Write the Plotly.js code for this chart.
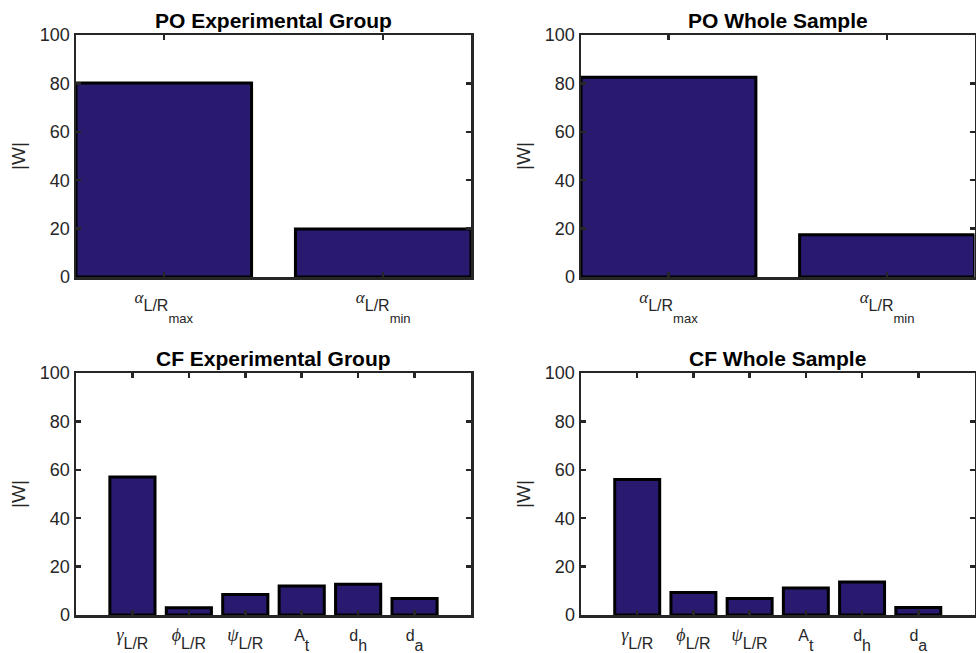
<!DOCTYPE html>
<html>
<head>
<meta charset="utf-8">
<script src="https://cdn.plot.ly/plotly-3.0.1.min.js"></script>
<style>html,body{margin:0;padding:0;background:#fff;}#chart{width:976px;height:653px;}</style>
</head>
<body>
<div id="chart"></div>
<script>
// ---- data ----
const titles = ["PO Experimental Group", "PO Whole Sample", "CF Experimental Group", "CF Whole Sample"];
const poCategories = [1, 2];
const poTickText = [
  '<span style="font-family:Liberation Serif;font-style:italic;font-size:17px">α</span><span style="baseline-shift:-8px">L/R</span><span style="baseline-shift:-20px;font-size:13px">max</span>',
  '<span style="font-family:Liberation Serif;font-style:italic;font-size:17px">α</span><span style="baseline-shift:-8px">L/R</span><span style="baseline-shift:-20px;font-size:13px">min</span>'
];
const poExperimental = [80.2, 19.8];
const poWhole = [82.5, 17.5];
const cfCategories = [1, 2, 3, 4, 5, 6];
const cfTickText = [
  '<span style="font-family:Liberation Serif;font-style:italic;font-size:18px">γ</span><span style="baseline-shift:-8px">L/R</span>',
  '<span style="font-family:Liberation Serif;font-style:italic;font-size:18px">ϕ</span><span style="baseline-shift:-8px">L/R</span>',
  '<span style="font-family:Liberation Serif;font-style:italic;font-size:18px">ψ</span><span style="baseline-shift:-8px">L/R</span>',
  'A<span style="baseline-shift:-10px">t</span>',
  'd<span style="baseline-shift:-10px">h</span>',
  'd<span style="baseline-shift:-10px">a</span>'
];
const cfExperimental = [57, 3, 8.5, 12, 12.7, 6.8];
const cfWhole = [56, 9.3, 6.8, 11.2, 13.6, 3.1];
const yTickVals = [0, 20, 40, 60, 80, 100];
const yLabel = "|W|";

// ---- styles ----
const barColor = "#29196f";
const axisColor = "#262626";
const fontFam = "Liberation Sans, Arial, sans-serif";

function bar(x, y, xa, ya) {
  return {type: "bar", x: x, y: y, xaxis: xa, yaxis: ya, width: 0.8,
    marker: {color: barColor, line: {color: "#000", width: 3}}, hoverinfo: "skip"};
}
const data = [
  bar(poCategories, poExperimental, "x", "y"),
  bar(poCategories, poWhole, "x2", "y2"),
  bar(cfCategories, cfExperimental, "x3", "y3"),
  bar(cfCategories, cfWhole, "x4", "y4")
];

const W = 976, H = 653;
const colL = [76 / W, 471 / W], colR = [581 / W, 974.5 / W];
const rowT = [1 - 277 / H, 1 - 35 / H], rowB = [1 - 615 / H, 1 - 373 / H];

function xAxis(domain, anchor, range, vals, text) {
  return {domain: domain, anchor: anchor, range: range, tickvals: vals, ticktext: text,
    showline: true, linecolor: axisColor, linewidth: 2.5, mirror: "ticks",
    ticks: "inside", ticklen: 5, tickwidth: 2.5, tickcolor: axisColor,
    showgrid: false, zeroline: false, fixedrange: true, ticklabelstandoff: 4,
    tickfont: {family: fontFam, size: 16, color: axisColor}};
}
function yAxis(domain, anchor) {
  return {domain: domain, anchor: anchor, range: [0, 100], tickvals: yTickVals,
    showline: true, linecolor: axisColor, linewidth: 2.5, mirror: "ticks",
    ticks: "inside", ticklen: 5, tickwidth: 2.5, tickcolor: axisColor,
    showgrid: false, zeroline: false, fixedrange: true,
    tickfont: {family: fontFam, size: 18, color: axisColor},
    title: {text: yLabel, font: {family: fontFam, size: 19, color: axisColor}, standoff: 9}};
}

function titleAnn(text, dom, rowTop) {
  return {text: "<b>" + text + "</b>", xref: "paper", yref: "paper",
    x: (dom[0] + dom[1]) / 2, y: rowTop, yshift: 1, xanchor: "center", yanchor: "bottom",
    showarrow: false, font: {family: fontFam, size: 21, color: "#000"}};
}

const layout = {
  width: W, height: H, margin: {l: 0, r: 0, t: 0, b: 0},
  paper_bgcolor: "#fff", plot_bgcolor: "#fff", showlegend: false,
  xaxis: xAxis(colL, "y", [0.6, 2.4], poCategories, poTickText),
  yaxis: yAxis(rowT, "x"),
  xaxis2: xAxis(colR, "y2", [0.6, 2.4], poCategories, poTickText),
  yaxis2: yAxis(rowT, "x2"),
  xaxis3: xAxis(colL, "y3", [0, 7], cfCategories, cfTickText),
  yaxis3: yAxis(rowB, "x3"),
  xaxis4: xAxis(colR, "y4", [0, 7], cfCategories, cfTickText),
  yaxis4: yAxis(rowB, "x4"),
  annotations: [
    titleAnn(titles[0], colL, rowT[1]),
    titleAnn(titles[1], colR, rowT[1]),
    titleAnn(titles[2], colL, rowB[1]),
    titleAnn(titles[3], colR, rowB[1])
  ]
};

Plotly.newPlot("chart", data, layout, {displayModeBar: false, staticPlot: true});
</script>
</body>
</html>
